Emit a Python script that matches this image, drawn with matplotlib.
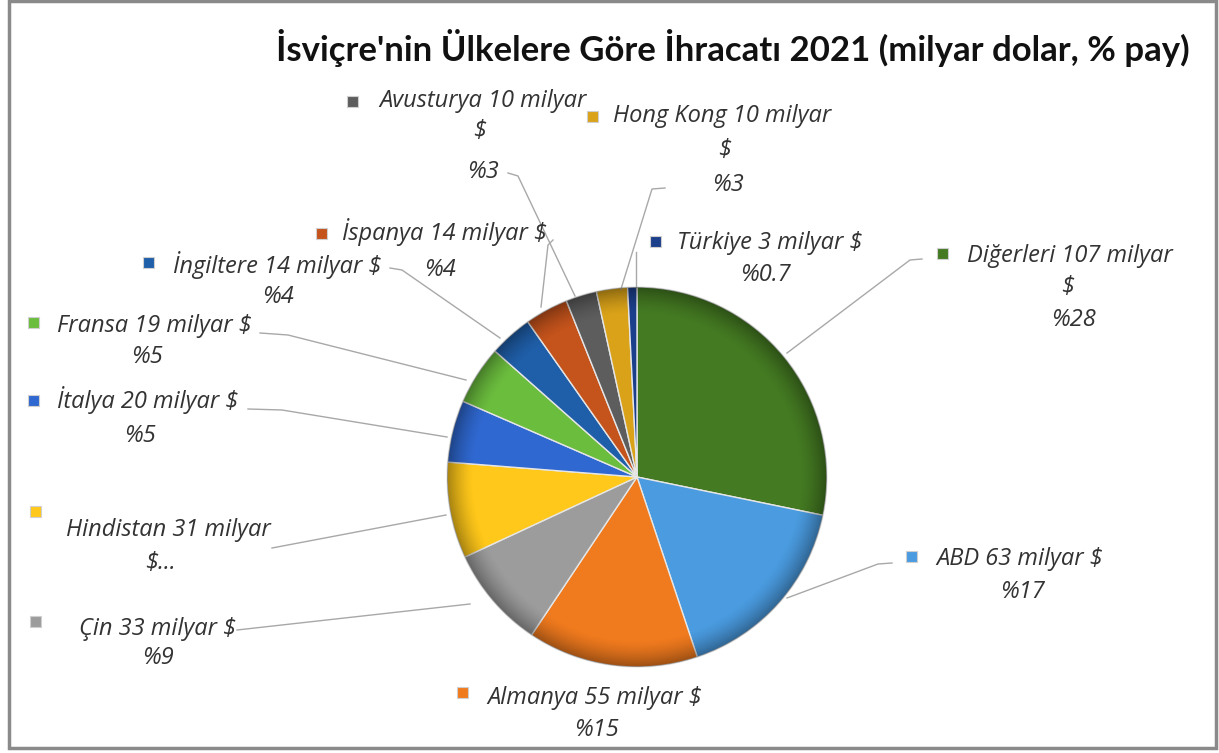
import numpy as np
import matplotlib
matplotlib.use("Agg")
from matplotlib import pyplot as plt
from matplotlib.patches import Rectangle, Circle

W, H = 1219, 753

# data, clockwise from 12 o'clock
countries = ["Diğerleri", "ABD", "Almanya", "Çin", "Hindistan", "İtalya",
             "Fransa", "İngiltere", "İspanya", "Avusturya", "Hong Kong", "Türkiye"]
values = [107, 63, 55, 33, 31, 20, 19, 14, 14, 10, 10, 3]
pct_labels = ["%28", "%17", "%15", "%9", "$...", "%5", "%5", "%4", "%4", "%3", "%3", "%0.7"]
colors = ["#447a22", "#4a9be0", "#f07a1e", "#9c9c9c", "#ffc81a", "#2f68d0",
          "#6bbd3e", "#1f5ea8", "#c4531c", "#5d5d5d", "#d9a219", "#1c3f8c"]

# label layout in pixel coords of the image: (line text, x, y)
label_lines = {
    "Diğerleri": [("Diğerleri 107 milyar", 1070, 256), ("$", 1068, 287), (None, 1073, 320)],
    "ABD": [("ABD 63 milyar $", 1020, 559), (None, 1022, 592)],
    "Almanya": [("Almanya 55 milyar $", 595, 698), (None, 596, 730)],
    "Çin": [("Çin 33 milyar $", 158, 629), (None, 158, 658)],
    "Hindistan": [("Hindistan 31 milyar", 168, 530), (None, 160, 563)],
    "İtalya": [("İtalya 20 milyar $", 148, 400), (None, 140, 436)],
    "Fransa": [("Fransa 19 milyar $", 154, 326), (None, 147, 357)],
    "İngiltere": [("İngiltere 14 milyar $", 277, 265), (None, 278, 297)],
    "İspanya": [("İspanya 14 milyar $", 444, 232), (None, 440, 270)],
    "Avusturya": [("Avusturya 10 milyar", 483, 101), ("$", 480, 131), (None, 483, 172)],
    "Hong Kong": [("Hong Kong 10 milyar", 722, 116), ("$", 725, 150), (None, 728, 185)],
    "Türkiye": [("Türkiye 3 milyar $", 770, 243), (None, 765, 275)],
}
markers = {
    "Diğerleri": (942, 253), "ABD": (911, 556), "Almanya": (462, 692), "Çin": (35, 621),
    "Hindistan": (35, 511), "İtalya": (33, 400), "Fransa": (33, 322), "İngiltere": (148, 262),
    "İspanya": (321, 233), "Avusturya": (352, 101), "Hong Kong": (592, 116), "Türkiye": (655, 241),
}
leaders = {
    "Diğerleri": [(922, 259), (910, 260), (787, 353)],
    "ABD": [(892, 563), (878, 564), (787, 598)],
    "Çin": [(237, 630), (470, 604)],
    "Hindistan": [(272, 548), (446, 515)],
    "İtalya": [(248, 409), (282, 410), (447, 437)],
    "Fransa": [(260, 333), (288, 335), (466, 380)],
    "İngiltere": [(390, 268), (402, 270), (500, 338)],
    "İspanya": [(553, 240), (548, 245), (541, 307)],
    "Avusturya": [(508, 173), (518, 176), (575, 296)],
    "Hong Kong": [(665, 188), (652, 189), (621, 289)],
    "Türkiye": [(636, 252), (636, 288)],
}


def fy(y):
    return H - y


def plot_pie():
    fig = plt.figure(figsize=(W / 100, H / 100), dpi=100)
    ax = fig.add_axes([0, 0, 1, 1])

    cx, cy, R = 637, fy(477), 190
    wedges, _ = ax.pie(values, colors=colors, startangle=90, counterclock=False,
                       center=(cx, cy), radius=R,
                       wedgeprops=dict(edgecolor="#e6e6e6", linewidth=1.0))

    # rim shading for a bit of the bevelled look
    n = 400
    xs = np.linspace(cx - R, cx + R, n)
    ys = np.linspace(cy - R, cy + R, n)
    gx, gy = np.meshgrid(xs, ys)
    r = np.hypot(gx - cx, gy - cy) / R
    shade = np.zeros((n, n, 4))
    shade[..., 3] = np.clip((r - 0.86) / 0.14, 0, 1) ** 1.5 * 0.35
    im = ax.imshow(shade, extent=(cx - R, cx + R, cy - R, cy + R), origin="lower",
                   zorder=3, interpolation="bilinear")
    im.set_clip_path(Circle((cx, cy), R, transform=ax.transData))

    font = dict(family="Open Sans", style="italic", size=17, color="#333333")
    for i, name in enumerate(countries):
        for txt, x, y in label_lines[name]:
            ax.text(x, fy(y), pct_labels[i] if txt is None else txt,
                    ha="center", va="center", fontdict=font)
        mx, my = markers[name]
        ax.add_patch(Rectangle((mx - 5.5, fy(my) - 5.5), 11, 11, facecolor=colors[i],
                               edgecolor="#cfcfcf", linewidth=0.8))
        if name in leaders:
            pts = leaders[name]
            ax.plot([p[0] for p in pts], [fy(p[1]) for p in pts],
                    color="#a8a8a8", linewidth=1.0, zorder=1)

    ax.text(1190, fy(48), "İsviçre'nin Ülkelere Göre İhracatı 2021 (milyar dolar, % pay)",
            ha="right", va="center", fontsize=25, fontweight="bold", family="Lato",
            color="#111111")

    # outer frame
    ax.add_patch(Rectangle((9, fy(748)), 1207, 747, facecolor="none",
                           edgecolor="#8a8a8a", linewidth=2.5))

    ax.set_xlim(0, W)
    ax.set_ylim(0, H)
    ax.set_aspect("equal")
    ax.axis("off")
    plt.savefig("out.png", dpi=100, facecolor="white")


if __name__ == "__main__":
    plot_pie()
